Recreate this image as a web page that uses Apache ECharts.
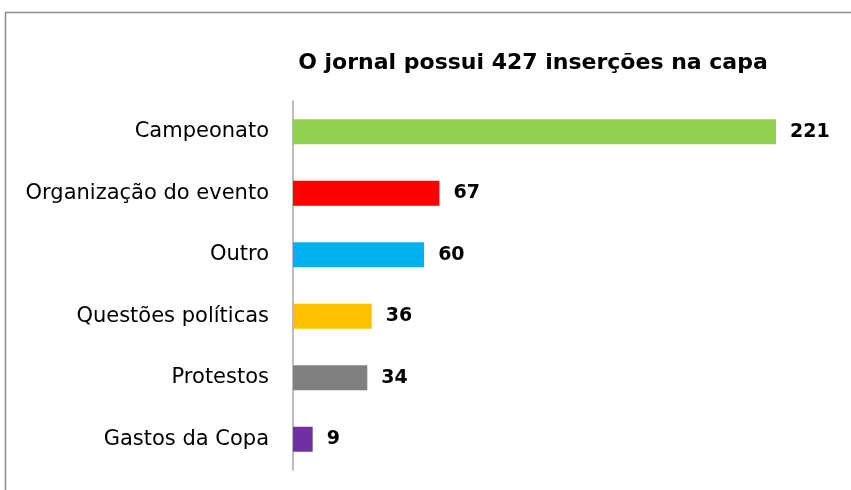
<!DOCTYPE html>
<html><head><meta charset="utf-8">
<script src="https://cdn.jsdelivr.net/npm/echarts@6/dist/echarts.min.js"></script>
<style>html,body{margin:0;padding:0;background:#fff}#c{width:851px;height:490px}</style>
</head><body><div id="c"></div>
<script>
var title = 'O jornal possui 427 inserções na capa';
var categories = ['Campeonato','Organização do evento','Outro','Questões políticas','Protestos','Gastos da Copa'];
var values = [221, 67, 60, 36, 34, 9];
var colors = ['#92d050','#ff0000','#00b0f0','#ffc000','#808080','#7030a0'];

var chart = echarts.init(document.getElementById('c'));
chart.setOption({
  backgroundColor:'#fff',
  animation:false,
  title:{text:title,left:528,textAlign:'center',top:47,
    textStyle:{fontFamily:'DejaVu Sans',fontWeight:'bold',fontSize:22,color:'#000'}},
  graphic:[{type:'polyline',shape:{points:[[5.5,490],[5.5,12.5],[851,12.5]]},style:{stroke:'#8c8c8c',lineWidth:1.5,fill:null}}],
  grid:{left:293,top:101,height:369,right:75},
  xAxis:{type:'value',min:0,max:'dataMax',show:false},
  yAxis:{type:'category',data:categories,inverse:true,
    axisLine:{lineStyle:{color:'#a6a6a6',width:1.5}},axisTick:{show:false},
    axisLabel:{margin:24,fontFamily:'DejaVu Sans',fontSize:21,color:'#000'}},
  series:[{type:'bar',barWidth:25,
    data:values.map(function(v,i){return {value:v,itemStyle:{color:colors[i]}};}),
    label:{show:true,position:'right',distance:14,fontFamily:'DejaVu Sans',fontWeight:'bold',fontSize:19,color:'#000'}}]
});
</script></body></html>
